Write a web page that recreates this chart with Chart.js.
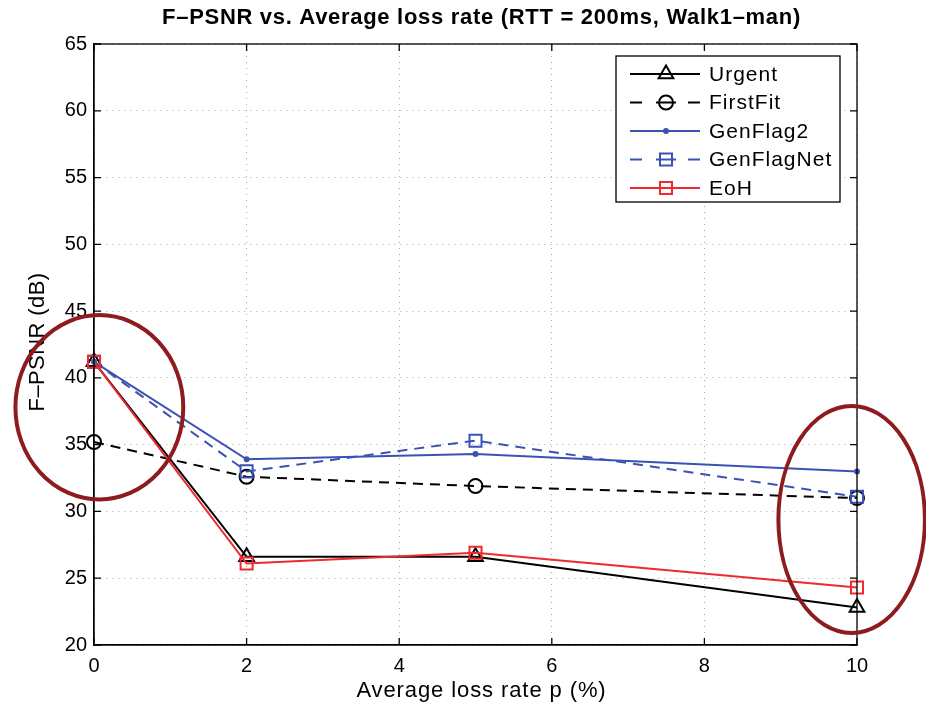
<!DOCTYPE html>
<html lang="en">
<head>
    <meta charset="UTF-8">
    <script src="https://cdn.jsdelivr.net/npm/chart.js"></script>
    <title>F-PSNR vs. Average loss rate</title>
    <style>
        body { margin: 0; background: #fff; }
        #wrap { width: 926px; height: 708px; }
    </style>
</head>
<body>
    <div id="wrap">
        <canvas id="psnrChart" width="926" height="708"></canvas>
    </div>

    <script>
    // loss rate p (%)
    const lossRates = [0, 2, 5, 10];
    const urgent     = [41.2, 26.6, 26.6, 22.8];
    const firstFit   = [35.2, 32.6, 31.9, 31.0];
    const genFlag2   = [41.2, 33.9, 34.3, 33.0];
    const genFlagNet = [41.2, 33.0, 35.3, 31.1];
    const eoh        = [41.2, 26.1, 26.9, 24.3];

    const xTicks = [0, 2, 4, 6, 8, 10];
    const yTicks = [20, 25, 30, 35, 40, 45, 50, 55, 60, 65];

    // red highlight ellipses (data units)
    const ellipses = [
        {x: 0.07, y: 37.8, rx: 1.1, ry: 6.9},
        {x: 9.93, y: 29.4, rx: 0.96, ry: 8.5}
    ];

    const FONT = '"Liberation Sans", Arial, Helvetica, sans-serif';
    const BLUE = '#3a52b4';
    const RED = '#ee2a2e';

    function pts(vals) {
        return lossRates.map((x, i) => ({x: x, y: vals[i]}));
    }

    const series = [
        {label: 'Urgent', data: urgent, color: '#000', dash: [], style: 'triangle', r: 8.5, fill: 'transparent'},
        {label: 'FirstFit', data: firstFit, color: '#000', dash: [10, 7], style: 'circle', r: 7, fill: 'transparent'},
        {label: 'GenFlag2', data: genFlag2, color: BLUE, dash: [], style: 'circle', r: 2, fill: BLUE},
        {label: 'GenFlagNet', data: genFlagNet, color: BLUE, dash: [10, 7], style: 'rect', r: 8.5, fill: 'transparent'},
        {label: 'EoH', data: eoh, color: RED, dash: [], style: 'rect', r: 8.5, fill: 'transparent'}
    ];

    const datasets = series.map((s, i) => ({
        label: s.label,
        data: pts(s.data),
        borderColor: s.color,
        borderWidth: 2,
        borderDash: s.dash,
        pointStyle: s.style,
        pointRadius: s.r,
        pointBorderWidth: 2,
        pointBorderColor: s.color,
        pointBackgroundColor: s.fill,
        tension: 0,
        clip: false,
        order: series.length - i
    }));

    const decor = {
        id: 'decor',
        afterDraw(chart) {
            const ctx = chart.ctx;
            const a = chart.chartArea;
            const xs = chart.scales.x, ys = chart.scales.y;
            const cx0 = (a.left + a.right) / 2 + 6;
            ctx.save();

            // box and inward ticks
            ctx.strokeStyle = '#000';
            ctx.lineWidth = 1.3;
            ctx.strokeRect(a.left, a.top, a.right - a.left, a.bottom - a.top);
            ctx.beginPath();
            xTicks.forEach(t => {
                const px = xs.getPixelForValue(t);
                ctx.moveTo(px, a.bottom); ctx.lineTo(px, a.bottom - 7);
                ctx.moveTo(px, a.top); ctx.lineTo(px, a.top + 7);
            });
            yTicks.forEach(t => {
                const py = ys.getPixelForValue(t);
                ctx.moveTo(a.left, py); ctx.lineTo(a.left + 7, py);
                ctx.moveTo(a.right, py); ctx.lineTo(a.right - 7, py);
            });
            ctx.stroke();

            // title and axis titles
            ctx.fillStyle = '#000';
            ctx.textAlign = 'center';
            ctx.textBaseline = 'middle';
            ctx.letterSpacing = '0.7px';
            ctx.font = 'bold 22px ' + FONT;
            ctx.fillText('F\u2013PSNR vs. Average loss rate (RTT = 200ms, Walk1\u2013man)', cx0, 18);
            ctx.letterSpacing = '0.9px';
            ctx.font = '22px ' + FONT;
            ctx.fillText('Average loss rate p (%)', cx0, 691);
            ctx.save();
            ctx.translate(38, 342);
            ctx.rotate(-Math.PI / 2);
            ctx.letterSpacing = '0.4px';
            ctx.fillText('F\u2013PSNR (dB)', 0, 0);
            ctx.restore();

            // legend
            const lx = a.right - 241, ly = a.top + 12, lw = 224, lh = 146;
            ctx.fillStyle = '#fff';
            ctx.fillRect(lx, ly, lw, lh);
            ctx.strokeStyle = '#000';
            ctx.lineWidth = 1.3;
            ctx.strokeRect(lx, ly, lw, lh);
            series.forEach((s, i) => {
                const cy = ly + 18 + i * 28.5;
                const x0 = lx + 14, x1 = lx + 84, xm = lx + 50;
                ctx.strokeStyle = s.color;
                ctx.lineWidth = 2;
                ctx.beginPath();
                if (s.dash.length) {
                    ctx.moveTo(x0, cy); ctx.lineTo(x0 + 12, cy);
                    ctx.moveTo(x1 - 12, cy); ctx.lineTo(x1, cy);
                    ctx.moveTo(xm - 10, cy); ctx.lineTo(xm + 10, cy);
                } else {
                    ctx.moveTo(x0, cy); ctx.lineTo(x1, cy);
                }
                ctx.stroke();
                ctx.fillStyle = s.fill;
                Chart.helpers.drawPoint(ctx, {pointStyle: s.style, radius: s.r, borderWidth: 2}, xm, cy);
                ctx.fillStyle = '#000';
                ctx.font = '21px ' + FONT;
                ctx.letterSpacing = '1px';
                ctx.textAlign = 'left';
                ctx.fillText(s.label, lx + 93, cy + 1);
            });
            ctx.letterSpacing = '0px';

            // highlight ellipses
            ctx.strokeStyle = '#8e1b1e';
            ctx.lineWidth = 4;
            ellipses.forEach(e => {
                const cx = xs.getPixelForValue(e.x), cy = ys.getPixelForValue(e.y);
                const rx = xs.getPixelForValue(e.x + e.rx) - cx;
                const ry = cy - ys.getPixelForValue(e.y + e.ry);
                ctx.beginPath();
                ctx.ellipse(cx, cy, rx, ry, 0, 0, Math.PI * 2);
                ctx.stroke();
            });
            ctx.restore();
        }
    };

    const gridOpts = {color: '#a8a8a8', drawTicks: false, lineWidth: 1};
    const borderOpts = {color: '#000', width: 1.3, dash: [1, 5]};

    new Chart(document.getElementById('psnrChart'), {
        type: 'line',
        data: {datasets: datasets},
        plugins: [decor],
        options: {
            responsive: false,
            animation: false,
            layout: {padding: {top: 44, right: 69, left: 0, bottom: 0}},
            plugins: {
                legend: {display: false},
                tooltip: {enabled: false}
            },
            scales: {
                x: {
                    type: 'linear',
                    min: 0, max: 10,
                    afterFit(scale) { scale.height = 63; },
                    afterBuildTicks(scale) { scale.ticks = xTicks.map(v => ({value: v})); },
                    grid: gridOpts,
                    border: borderOpts,
                    ticks: {color: '#000', font: {family: FONT, size: 20}, padding: 9, maxRotation: 0}
                },
                y: {
                    min: 20, max: 65,
                    afterFit(scale) { scale.width = 94; },
                    afterBuildTicks(scale) { scale.ticks = yTicks.map(v => ({value: v})); },
                    grid: gridOpts,
                    border: borderOpts,
                    ticks: {color: '#000', font: {family: FONT, size: 20}, padding: 7}
                }
            }
        }
    });
    </script>
</body>
</html>
